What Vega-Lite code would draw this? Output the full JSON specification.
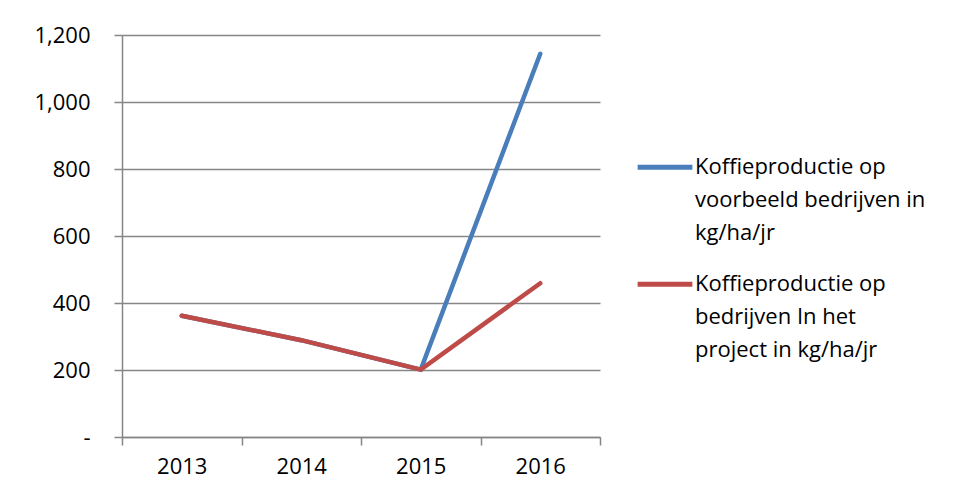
{
  "$schema": "https://vega.github.io/schema/vega-lite/v6.json",
  "autosize": {"type": "none"},
  "padding": {"left": 122, "top": 35, "right": 357, "bottom": 63},
  "width": 478,
  "height": 402,
  "background": "white",
  "data": {"values": [
    {"year": "2013", "series": "Voorbeeld", "value": 362},
    {"year": "2014", "series": "Voorbeeld", "value": 289},
    {"year": "2015", "series": "Voorbeeld", "value": 201},
    {"year": "2016", "series": "Voorbeeld", "value": 1144},
    {"year": "2013", "series": "Project", "value": 362},
    {"year": "2014", "series": "Project", "value": 289},
    {"year": "2015", "series": "Project", "value": 201},
    {"year": "2016", "series": "Project", "value": 459}
  ]},
  "encoding": {
    "x": {"field": "year", "type": "nominal", "sort": null, "title": null,
      "scale": {"paddingInner": 0, "paddingOuter": 0},
      "axis": {"labelAngle": 0, "tickBand": "extent", "domainColor": "#868686", "tickColor": "#868686",
        "tickSize": 8, "labelFont": "Open Sans", "labelFontSize": 22, "labelColor": "#000000", "labelPadding": 11, "grid": false, "domainWidth": 1.5, "tickWidth": 1.5}},
    "y": {"field": "value", "type": "quantitative", "title": null,
      "scale": {"domain": [0, 1200], "nice": false},
      "axis": {"values": [0, 200, 400, 600, 800, 1000, 1200], "labelExpr": "datum.value == 0 ? '-' : format(datum.value, ',')",
        "domainColor": "#868686", "tickColor": "#868686", "gridColor": "#868686", "tickSize": 8, "grid": true,
        "labelFont": "Open Sans", "labelFontSize": 22, "labelColor": "#000000", "labelPadding": 24, "domainWidth": 1.5, "tickWidth": 1.5, "gridWidth": 1.5}},
    "color": {"field": "series", "type": "nominal",
      "scale": {"domain": ["Voorbeeld", "Project"], "range": ["#4A7EBB", "#BE4B48"]},
      "legend": {"title": null, "orient": "none", "legendX": 513, "legendY": 92,
        "symbolType": "M-1,0.37H1", "symbolSize": 3000, "symbolStrokeWidth": 5, "symbolFillColor": "transparent",
        "labelFont": "Open Sans", "labelFontSize": 22, "labelColor": "#000000", "labelLimit": 400, "labelOffset": 0,
        "labelBaseline": "top", "rowPadding": -17,
        "labelExpr": "datum.label == 'Voorbeeld' ? ['Koffieproductie op', 'voorbeeld bedrijven in', 'kg/ha/jr'] : ['Koffieproductie op', 'bedrijven In het', 'project in kg/ha/jr']"}}
  },
  "layer": [
    {"transform": [{"filter": "datum.series == 'Voorbeeld'"}], "mark": {"type": "line", "strokeWidth": 4.5, "strokeCap": "round"}},
    {"transform": [{"filter": "datum.series == 'Project'"}], "mark": {"type": "line", "strokeWidth": 4.5, "strokeCap": "round"}}
  ],
  "config": {
    "view": {"stroke": null},
    "style": {"guide-label": {"lineHeight": 33}}
  }
}
